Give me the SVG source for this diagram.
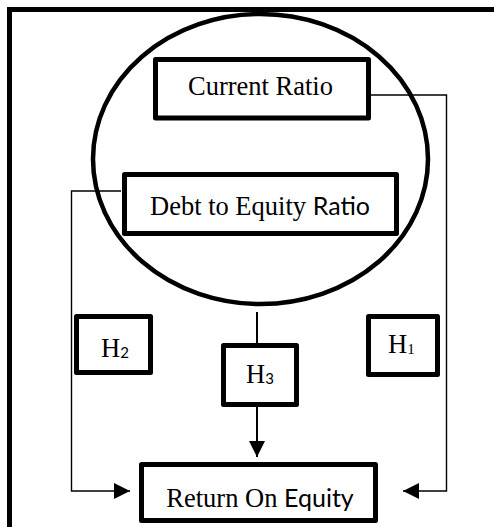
<svg xmlns="http://www.w3.org/2000/svg" width="494" height="527" viewBox="0 0 494 527">
<style>
.box{fill:#fff;stroke:#000;stroke-width:5;stroke-linejoin:round}
.thin{fill:none;stroke:#000;stroke-width:1.4}
.mid{fill:none;stroke:#000;stroke-width:2}
.serif{font-family:"Liberation Serif","Times New Roman",serif;font-size:26.5px;fill:#000}
.sans{font-family:Lato,"Liberation Sans",sans-serif}
.sub{font-size:15px}
</style>
<defs>
<marker id="ah" viewBox="0 0 10 10" refX="10" refY="5" markerWidth="16" markerHeight="16" markerUnits="userSpaceOnUse" orient="auto">
<path d="M0,0 L10,5 L0,10 Z" fill="#000"/>
</marker>
</defs>
<rect x="0" y="0" width="494" height="527" fill="#fff"/>
<rect id="frame" x="9.5" y="9.5" width="600" height="600" fill="none" stroke="#000" stroke-width="5"/>
<g id="group-circle">
<ellipse cx="260.5" cy="159" rx="167.5" ry="145" fill="none" stroke="#000" stroke-width="4.5"/>
</g>
<g id="connectors">
<polyline class="thin" points="371,95 446.5,95 446.5,491 403,491" marker-end="url(#ah)"/>
<polyline class="thin" points="121,191 71.5,191 71.5,491 130,491" marker-end="url(#ah)"/>
<line class="mid" x1="257" y1="312" x2="257" y2="343"/>
<line class="mid" x1="257" y1="407" x2="257" y2="457" marker-end="url(#ah)"/>
</g>
<g id="current-ratio">
<rect class="box" x="155.5" y="59.5" width="213" height="58.5"/>
<text class="serif" x="260.5" y="95" text-anchor="middle">Current Ratio</text>
</g>
<g id="debt-to-equity">
<rect class="box" x="124.5" y="174.5" width="272" height="59"/>
<text class="serif" x="260" y="215" text-anchor="middle">Debt to Equity <tspan class="sans" font-size="25">Ratio</tspan></text>
</g>
<g id="h2">
<rect class="box" x="76.5" y="316.5" width="74" height="56"/>
<text class="serif" x="101" y="357">H<tspan class="sans sub" dy="1">2</tspan></text>
</g>
<g id="h1">
<rect class="box" x="368.5" y="316.5" width="69" height="58"/>
<text class="serif" x="388" y="353">H<tspan class="sub" dy="1">1</tspan></text>
</g>
<g id="h3">
<rect class="box" x="223.5" y="345.5" width="73" height="59"/>
<text class="serif" x="246" y="383">H<tspan class="sans sub" dy="1">3</tspan></text>
</g>
<g id="return-on-equity">
<rect class="box" x="141.5" y="464.5" width="234" height="56"/>
<text class="serif" x="260" y="507" text-anchor="middle">Return On <tspan class="sans" font-size="25">Equity</tspan></text>
</g>
</svg>
